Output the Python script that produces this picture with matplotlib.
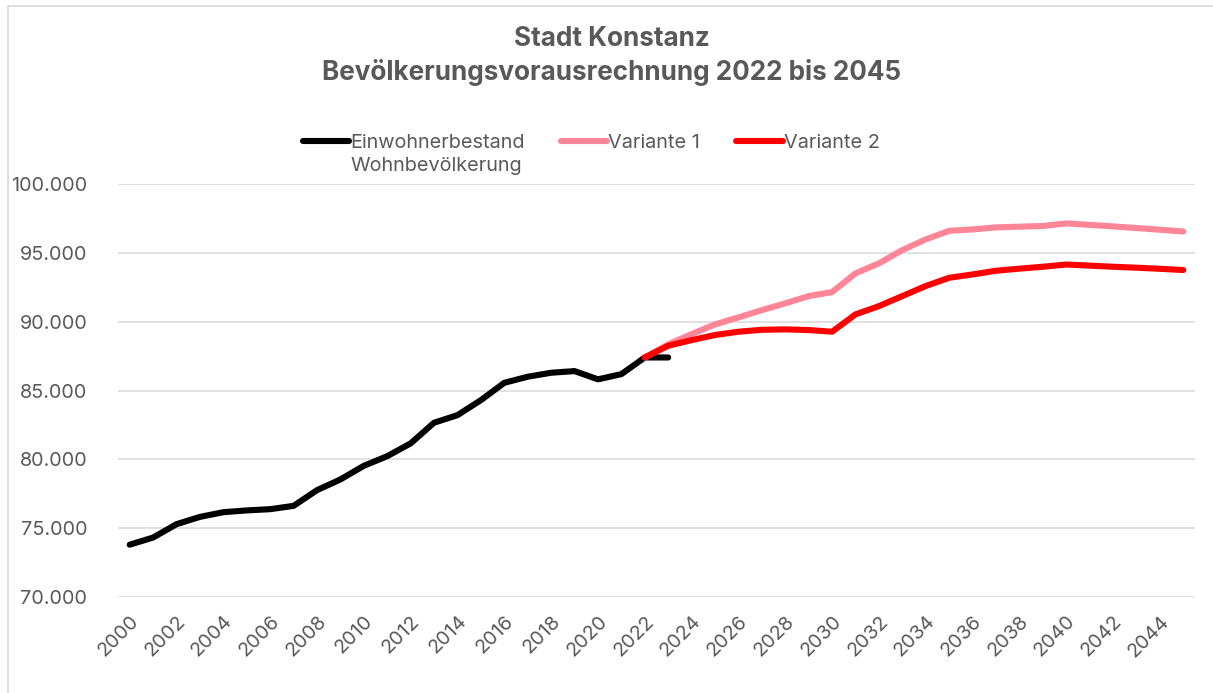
import matplotlib.pyplot as plt
from matplotlib.patches import Rectangle
from matplotlib.ticker import FuncFormatter

# Einwohnerbestand (Wohnbevölkerung) 2000-2023
jahre_bestand = list(range(2000, 2024))
bestand = [73800, 74320, 75290, 75820, 76160, 76290, 76380, 76620, 77760, 78540,
           79530, 80230, 81160, 82660, 83210, 84300, 85560, 86000, 86290, 86410,
           85810, 86190, 87400, 87400]

# Vorausrechnung 2022-2045
jahre_prognose = list(range(2022, 2046))
variante1 = [87400, 88350, 89100, 89800, 90310, 90840, 91330, 91860, 92150, 93510,
             94240, 95200, 95980, 96600, 96700, 96850, 96900, 96950, 97140, 97030,
             96920, 96800, 96680, 96550]
variante2 = [87400, 88250, 88660, 89030, 89270, 89410, 89440, 89390, 89270, 90530,
             91130, 91860, 92590, 93190, 93430, 93700, 93850, 93990, 94150, 94070,
             93990, 93920, 93840, 93750]

x_ticks = list(range(2000, 2046, 2))
y_ticks = [70000, 75000, 80000, 85000, 90000, 95000, 100000]

grau = '#595959'
plt.rcParams['font.family'] = ['Inter', 'DejaVu Sans']
fs = 14.3

fig = plt.figure(figsize=(12.13, 6.93), dpi=100)
fig.patches.append(Rectangle((8 / 1213, -0.1), 1.2, 1.1 - 6 / 693, transform=fig.transFigure,
                             fill=False, edgecolor='#d9d9d9', linewidth=1.2))

ax = fig.add_axes([118 / 1213, 1 - 597 / 693, (1195 - 118) / 1213, (597 - 184) / 693])

l1, = ax.plot(jahre_bestand, bestand, color='black', linewidth=4.4, solid_capstyle='round',
              solid_joinstyle='round', label='Einwohnerbestand', zorder=3)
l2, = ax.plot(jahre_prognose, variante1, color='#ff8597', linewidth=4.4, solid_capstyle='round',
              solid_joinstyle='round', label='Variante 1', zorder=4)
l3, = ax.plot(jahre_prognose, variante2, color='#ff0000', linewidth=4.4, solid_capstyle='round',
              solid_joinstyle='round', label='Variante 2', zorder=5)

ax.set_xlim(1999.5, 2045.5)
ax.set_ylim(70000, 100000)
ax.set_yticks(y_ticks)
ax.yaxis.set_major_formatter(FuncFormatter(lambda v, p: f'{int(v):,}'.replace(',', '.')))
ax.set_xticks(x_ticks)
ax.set_xticklabels([str(j) for j in x_ticks], rotation=45, ha='right', va='top',
                   rotation_mode='anchor')
ax.tick_params(axis='y', length=0, pad=22, labelsize=fs, labelcolor=grau)
ax.tick_params(axis='x', length=0, pad=11, labelsize=fs, labelcolor=grau)
ax.grid(axis='y', color='#d9d9d9', linewidth=1.1)
ax.set_axisbelow(True)
for s in ax.spines.values():
    s.set_visible(False)

fig.text(612 / 1213, 1 - 56 / 693, 'Stadt Konstanz\nBevölkerungsvorausrechnung 2022 bis 2045',
         ha='center', va='center', fontsize=18.8, fontweight='bold', color=grau, linespacing=1.37)

leg = fig.legend(handles=[l1, l2, l3], loc='center', bbox_to_anchor=(591 / 1213, 1 - 143 / 693),
                 ncol=3, frameon=False, fontsize=fs, handlelength=2.35, handletextpad=0.05,
                 columnspacing=1.8, labelcolor=grau)

# zweite Zeile der ersten Legendenbeschriftung
fig.canvas.draw()
t0 = leg.get_texts()[0]
bb = t0.get_window_extent().transformed(fig.transFigure.inverted())
fig.text(bb.x0, bb.y0 - 5 / 693, 'Wohnbevölkerung', ha='left', va='top', fontsize=fs, color=grau)

fig.savefig('out.png', dpi=100)
